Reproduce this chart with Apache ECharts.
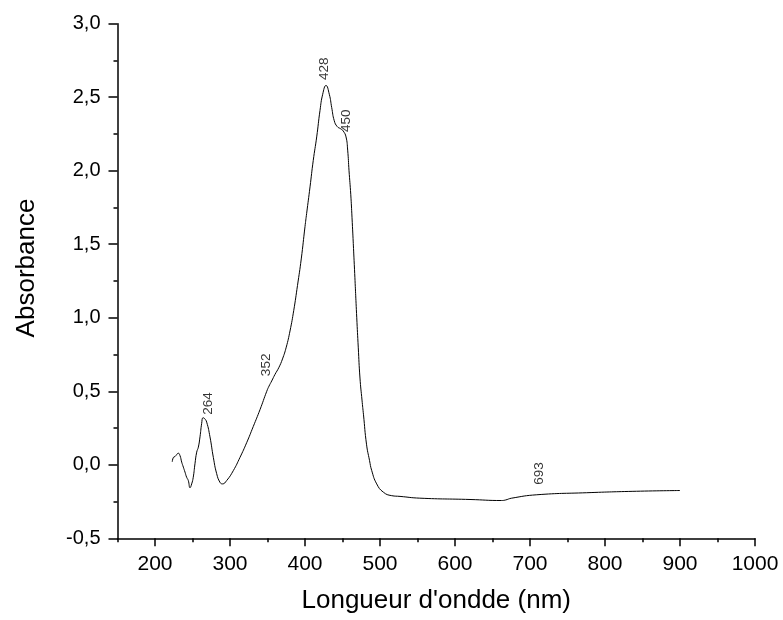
<!DOCTYPE html>
<html>
<head>
<meta charset="utf-8">
<script src="https://cdn.jsdelivr.net/npm/echarts@6/dist/echarts.min.js"></script>
<style>
html,body{margin:0;padding:0;background:#fff;}
#chart{width:783px;height:620px;}
</style>
</head>
<body>
<div id="chart"></div>
<script>
// Wavelength (nm) and absorbance
const wavelength = [223, 224.5, 226.7, 229, 231, 233.3, 235.6, 237.8, 240, 242.2, 244.4, 246.7, 248.9, 251, 253.3, 255.6, 257.8, 260, 262.2, 264, 266, 268.9, 273.3, 277.8, 282.2, 286.7, 290, 295.6, 304.4, 313.3, 322.2, 331, 340, 349, 352, 355.6, 360, 365, 370, 375, 380, 385, 390, 395, 400, 402.2, 406.7, 411, 415.6, 420, 423.6, 428, 432.4, 435.6, 439, 443, 447.6, 451, 454.7, 456.9, 458.7, 461, 462.7, 466, 469, 471, 473.3, 476, 478, 482, 486, 489, 495.6, 504.4, 515.6, 526.7, 553, 620, 662, 667, 675.6, 709, 775.6, 842, 900];
const absorbance = [0.02, 0.05, 0.056, 0.07, 0.079, 0.063, 0.018, -0.016, -0.05, -0.085, -0.107, -0.156, -0.13, -0.085, 0.007, 0.086, 0.12, 0.19, 0.28, 0.32, 0.315, 0.29, 0.19, 0.05, -0.06, -0.12, -0.13, -0.107, -0.04, 0.05, 0.15, 0.26, 0.375, 0.5, 0.535, 0.57, 0.615, 0.66, 0.72, 0.80, 0.91, 1.05, 1.22, 1.40, 1.62, 1.71, 1.89, 2.07, 2.23, 2.41, 2.52, 2.58, 2.52, 2.43, 2.34, 2.30, 2.285, 2.27, 2.23, 2.14, 2.0, 1.84, 1.68, 1.33, 1.0, 0.80, 0.59, 0.44, 0.34, 0.14, 0.03, -0.04, -0.13, -0.186, -0.21, -0.215, -0.227, -0.236, -0.243, -0.24, -0.227, -0.204, -0.19, -0.18, -0.175];

// Peak annotations
const peakNm = [264, 352, 428, 450, 693];
const peakAbs = [0.32, 0.535, 2.58, 2.27, -0.21];
const peakLabels = ['264', '352', '428', '450', '693'];

// Tick values
const xMajorTicks = [200, 300, 400, 500, 600, 700, 800, 900, 1000];

// label offsets (screen px) — styling only
const peakOffsets = [[5.5, -3], [-3, -10], [-1.5, -5.5], [4, 1], [15, -11]];

const font = "'Liberation Sans', Arial, Helvetica, sans-serif";
const fmtComma = v => (Math.round(v * 10) / 10).toFixed(1).replace('.', ',');

const lineData = wavelength.map((x, i) => [x, absorbance[i]]);
const peakData = peakNm.map((x, i) => ({
  value: [x, peakAbs[i]],
  name: peakLabels[i],
  label: { position: peakOffsets[i] }
}));

const chart = echarts.init(document.getElementById('chart'), null, { renderer: 'canvas' });
chart.setOption({
  backgroundColor: '#ffffff',
  animation: false,
  grid: { left: 117.5, right: 28, top: 23.7, bottom: 81.7, containLabel: false },
  xAxis: [{
    type: 'value', min: 150, max: 1000, interval: 50,
    name: "Longueur d'ondde (nm)", nameLocation: 'middle', nameGap: 50,
    nameTextStyle: { fontFamily: font, fontSize: 26, color: '#000' },
    axisLine: { show: true, onZero: false, lineStyle: { color: '#000', width: 1.5 } },
    axisTick: { show: true, inside: false, length: 4, lineStyle: { color: '#000', width: 1.5 } },
    axisLabel: { show: true, customValues: xMajorTicks, margin: 15, fontFamily: font, fontSize: 21, color: '#000', formatter: v => String(v) },
    splitLine: { show: false }
  }, {
    type: 'value', min: 150, max: 1000, position: 'bottom', gridIndex: 0,
    axisLine: { show: false, onZero: false },
    axisTick: { show: true, inside: false, length: 8, customValues: xMajorTicks, lineStyle: { color: '#000', width: 1.5 } },
    axisLabel: { show: false },
    splitLine: { show: false }
  }],
  yAxis: {
    type: 'value', min: -0.5, max: 3.0, interval: 0.5,
    name: 'Absorbance', nameLocation: 'middle', nameGap: 78, nameRotate: 90,
    nameTextStyle: { fontFamily: font, fontSize: 26, color: '#000', padding: [0, 0, 0, 26] },
    axisLine: { show: true, onZero: false, lineStyle: { color: '#000', width: 1.5 } },
    axisTick: { show: true, inside: false, length: 9, lineStyle: { color: '#000', width: 1.5 } },
    minorTick: { show: true, splitNumber: 2, length: 4, lineStyle: { color: '#000', width: 1.5 } },
    axisLabel: { margin: 17, fontFamily: font, fontSize: 20, color: '#000', formatter: fmtComma },
    splitLine: { show: false }
  },
  series: [{
    type: 'line',
    data: lineData,
    showSymbol: false,
    smooth: 0.5,
    lineStyle: { color: '#000', width: 1 },
    silent: true
  }, {
    type: 'scatter',
    data: peakData,
    symbolSize: 0,
    itemStyle: { color: 'rgba(0,0,0,0)' },
    label: {
      show: true, formatter: p => p.name, rotate: 90,
      align: 'left', verticalAlign: 'middle',
      fontFamily: font, fontSize: 13.5, color: '#000'
    },
    silent: true
  }]
});
</script>
</body>
</html>
